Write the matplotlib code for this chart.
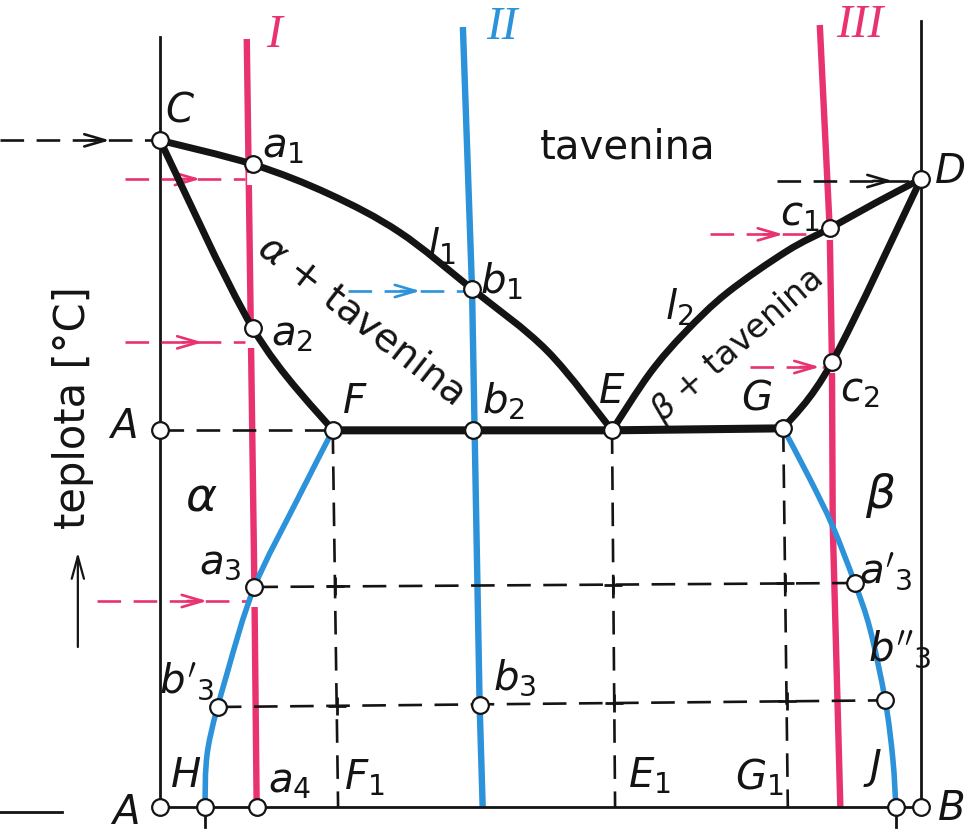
import numpy as np
import matplotlib
matplotlib.use('Agg')
import matplotlib.pyplot as plt
from matplotlib.path import Path
from matplotlib.patches import PathPatch

plt.rcParams['font.family'] = ['DejaVu Sans']
plt.rcParams['mathtext.fontset'] = 'dejavusans'
plt.rcParams['lines.scale_dashes'] = False

RED = '#E8336F'
BLUE = '#2C92DA'
BLACK = '#141414'

# ---------------- data: composition [% B], temperature (arbitrary units) ----------------
# liquidus l1 (C -> a1 -> b1 -> E)
liq1_x = [0.0, 12.2, 22.3, 31.5, 41.0, 50.9, 59.4]
liq1_T = [1000, 964, 919, 862, 777, 684, 565]
# solidus (C -> a2 -> F)
sol1_x = [0.0, 12.2, 22.7]
sol1_T = [1000, 718, 565]
# liquidus l2 (E -> c1 -> D)
liq2_x = [59.4, 64.4, 69.0, 74.5, 82.4, 88.0, 94.0, 100.0]
liq2_T = [565, 651, 712, 771, 834, 868, 906, 942]
# solidus (D -> c2 -> G)
sol2_x = [100.0, 88.3, 81.9]
sol2_T = [942, 667, 568]
# eutectic line F - E - G
eut_x = [22.7, 59.4, 81.9]
eut_T = [565, 565, 568]
# solvus alpha (F -> a3 -> b3' -> H)
solv1_x = [22.7, 18.0, 12.4, 8.8, 6.3, 5.9]
solv1_T = [565, 460, 330, 200, 88, 0]
# solvus beta (G -> a3' -> b3'' -> J)
solv2_x = [81.9, 85.4, 88.4, 91.3, 93.3, 95.3, 96.3, 96.7]
solv2_T = [568, 492, 421, 336, 267, 160, 72, 0]
# alloys I, II, III
alloy1_x = [11.4, 12.4, 12.7]
alloy1_T = [1152, 330, 0]
alloy2_x = [39.8, 41.0, 42.0, 42.4]
alloy2_T = [1170, 777, 153, 0]
alloy3_x = [86.7, 88.0, 88.3, 88.4, 89.4]
alloy3_T = [1173, 868, 667, 424, 0]
# frame
left_axis_T = [1155, 0]
right_axis_T = [1179, 0]
# tie lines (a3 - a3', b3' - b3'')
tie_a3_x = [12.4, 91.3]
tie_a3_T = [330, 336]
tie_b3_x = [7.6, 95.3]
tie_b3_T = [150, 160]
# vertical projections F-F1, E-E1, G-G1
proj_top_x = [22.7, 59.4, 81.9]
proj_top_T = [565, 565, 568]
proj_bot_x = [23.4, 59.8, 82.5]
# dashed arrows: start, end, level, arrow tip, colour
arrow_x0 = [-21.0, -4.6, -4.6, 24.7, 81.1, 72.3, 77.5, -8.3]
arrow_x1 = [0.0, 11.2, 11.2, 40.1, 100.0, 86.9, 87.4, 11.4]
arrow_T = [1000, 942, 697, 774, 939, 859, 660, 309]
arrow_tip = [-6.6, 5.3, 5.6, 34.2, 96.3, 81.9, 86.7, 6.2]
arrow_col = ['k', 'r', 'r', 'b', 'k', 'r', 'r', 'r']
# marked points
pts_x = [0.0, 12.2, 41.0, 59.4, 88.0, 100.0, 12.2, 22.7, 41.1, 81.9, 88.3, 0.0,
         12.4, 91.3, 7.6, 42.0, 95.3, 0.0, 5.9, 12.7, 96.7, 100.0]
pts_T = [1000, 964, 777, 565, 868, 942, 718, 565, 565, 568, 667, 565,
         330, 336, 150, 153, 160, 0, 0, 0, 0, 0]
# labels
labels = [
    ('$C$', 2.6, 1047), ('$a_1$', 16.2, 993), ('$l_1$', 36.9, 842), ('$b_1$', 44.9, 790),
    ('$D$', 103.8, 954), ('$c_1$', 84.1, 890), ('$l_2$', 68.2, 751), ('$a_2$', 17.3, 710),
    ('$F$', 25.6, 609), ('$b_2$', 45.1, 610), ('$E$', 59.4, 624), ('$G$', 78.4, 615),
    ('$c_2$', 92.0, 626), ('$A$', -5.0, 571), ('$a_3$', 7.9, 368), ("$a'_3$", 95.4, 354),
    ("$b'_3$", 3.5, 189), ("$b''_3$", 97.2, 237), ('$b_3$', 46.6, 195), ('$H$', 3.3, 48),
    ('$a_4$', 17.0, 40), ('$F_1$', 26.9, 45), ('$E_1$', 64.3, 48), ('$G_1$', 78.8, 46),
    ('$J$', 93.7, 60), ('$A$', -4.7, -7.5), ('$B$', 103.9, -1.5),
]
phase_labels = [(r'$\alpha$', 5.4, 465), (r'$\beta$', 94.7, 469)]
roman = [('I', 15.0, 1158, RED), ('II', 44.9, 1170, BLUE), ('III', 91.9, 1173, RED)]

COL = {'k': BLACK, 'r': RED, 'b': BLUE}

# ---------------- figure ----------------
fig = plt.figure(figsize=(9.7, 8.37), dpi=100)
ax = fig.add_axes([0, 0, 1, 1])
ax.set_xlim(-21.03, 106.44)
ax.set_ylim(-43.5, 1212)
ax.axis('off')


def smooth(xs, ys, **kw):
    P = np.column_stack([xs, ys]).astype(float)
    n = len(P)
    verts = [P[0]]
    codes = [Path.MOVETO]
    for i in range(n - 1):
        p0 = P[i - 1] if i > 0 else P[i]
        p1 = P[i]
        p2 = P[i + 1]
        p3 = P[i + 2] if i + 2 < n else P[i + 1]
        verts += [p1 + (p2 - p0) / 6.0, p2 - (p3 - p1) / 6.0, p2]
        codes += [Path.CURVE4] * 3
    ax.add_patch(PathPatch(Path(verts, codes), fill=False, capstyle='round',
                           joinstyle='round', **kw))


DASH = (0, (17, 9))

# frame
ax.plot([0, 0], left_axis_T, color=BLACK, lw=2.0, zorder=3)
ax.plot([100, 100], right_axis_T, color=BLACK, lw=2.0, zorder=3)
ax.plot([0, 100], [0, 0], color=BLACK, lw=2.0, zorder=3)
ax.plot([-21.0, -12.9], [-7.5, -7.5], color=BLACK, lw=2.0, zorder=3)
for xx in (solv1_x[-1], solv2_x[-1]):
    ax.plot([xx, xx], [0, -30], color=BLACK, lw=2.0, zorder=3)

# alloy verticals
ax.plot(alloy1_x, alloy1_T, color=RED, lw=4.6, zorder=2, solid_capstyle='butt')
ax.plot(alloy2_x, alloy2_T, color=BLUE, lw=4.6, zorder=2, solid_capstyle='butt')
ax.plot(alloy3_x, alloy3_T, color=RED, lw=4.6, zorder=2, solid_capstyle='butt')

# white gaps where red arrows meet the alloy lines
for x1, T, c in zip(arrow_x1, arrow_T, arrow_col):
    if c == 'r':
        ax.plot([x1 + 0.9, x1 + 0.9], [T - 9, T + 9], color='white', lw=7, zorder=2.5,
                solid_capstyle='butt')

# dashed guides
ax.plot([0, proj_top_x[0]], [proj_top_T[0], proj_top_T[0]], color=BLACK, lw=1.9,
        ls=DASH, zorder=3)
ax.plot(tie_a3_x, tie_a3_T, color=BLACK, lw=1.9, ls=DASH, zorder=3)
ax.plot(tie_b3_x, tie_b3_T, color=BLACK, lw=1.9, ls=DASH, zorder=3)
for xt, Tt, xb in zip(proj_top_x, proj_top_T, proj_bot_x):
    ax.plot([xt, xb], [Tt, 0], color=BLACK, lw=1.9, ls=DASH, zorder=3)
    for tx, tT in ((tie_a3_x, tie_a3_T), (tie_b3_x, tie_b3_T)):
        yy = np.interp(xt, tx, tT)
        xc = np.interp(yy, [0, Tt], [xb, xt])
        ax.plot([xc], [yy], marker='+', ms=13, mew=2.0, color=BLACK, zorder=3)

# arrows
for x0, x1, T, tip, c in zip(arrow_x0, arrow_x1, arrow_T, arrow_tip, arrow_col):
    col = COL[c]
    ax.plot([x0, x1], [T, T], color=col, lw=1.9, ls=DASH, zorder=3)
    ax.annotate('', xy=(tip, T), xytext=(tip - 2.6, T),
                arrowprops=dict(arrowstyle='->,head_length=0.75,head_width=0.22',
                                color=col, lw=1.9, shrinkA=0, shrinkB=0,
                                mutation_scale=20), zorder=3.5)

# phase boundaries
smooth(solv1_x, solv1_T, edgecolor=BLUE, linewidth=4.0, zorder=3.2)
smooth(solv2_x, solv2_T, edgecolor=BLUE, linewidth=4.0, zorder=3.2)
smooth(liq1_x, liq1_T, edgecolor=BLACK, linewidth=5.0, zorder=4)
smooth(sol1_x, sol1_T, edgecolor=BLACK, linewidth=5.0, zorder=4)
smooth(liq2_x, liq2_T, edgecolor=BLACK, linewidth=5.0, zorder=4)
smooth(sol2_x, sol2_T, edgecolor=BLACK, linewidth=5.0, zorder=4)
ax.plot(eut_x, eut_T, color=BLACK, lw=5.8, zorder=4, solid_capstyle='round')

# points
ax.plot(pts_x, pts_T, ls='none', marker='o', ms=12, mfc='white', mec=BLACK, mew=1.6,
        zorder=6)

# labels
for s, x, T in labels:
    ax.text(x, T, s, fontsize=29, ha='center', va='center', color=BLACK, zorder=7)
for s, x, T in phase_labels:
    ax.text(x, T, s, fontsize=34, ha='center', va='center', color=BLACK, zorder=7)
for s, x, T, c in roman:
    ax.text(x, T, s, fontsize=34, ha='center', va='center', color=c, zorder=7,
            family='Liberation Serif', style='italic')

ax.text(61.4, 991, 'tavenina', fontsize=29, ha='center', va='center', color=BLACK)
ax.text(26.5, 732, r'$\alpha$ + tavenina', fontsize=28, ha='center', va='center',
        rotation=-38, rotation_mode='anchor', color=BLACK, zorder=7)
ax.text(75.9, 694, r'$\beta$ + tavenina', fontsize=24, ha='center', va='center',
        rotation=41, rotation_mode='anchor', color=BLACK, zorder=7)
ax.text(-11.4, 600, 'teplota [°C]', fontsize=30, ha='center', va='center',
        rotation=90, rotation_mode='anchor', color=BLACK)
ax.annotate('', xy=(-10.8, 382), xytext=(-10.8, 240),
            arrowprops=dict(arrowstyle='->,head_length=0.8,head_width=0.22', color=BLACK,
                            lw=1.6, shrinkA=0, shrinkB=0, mutation_scale=20))

fig.savefig('out.png', dpi=100, facecolor='white')
